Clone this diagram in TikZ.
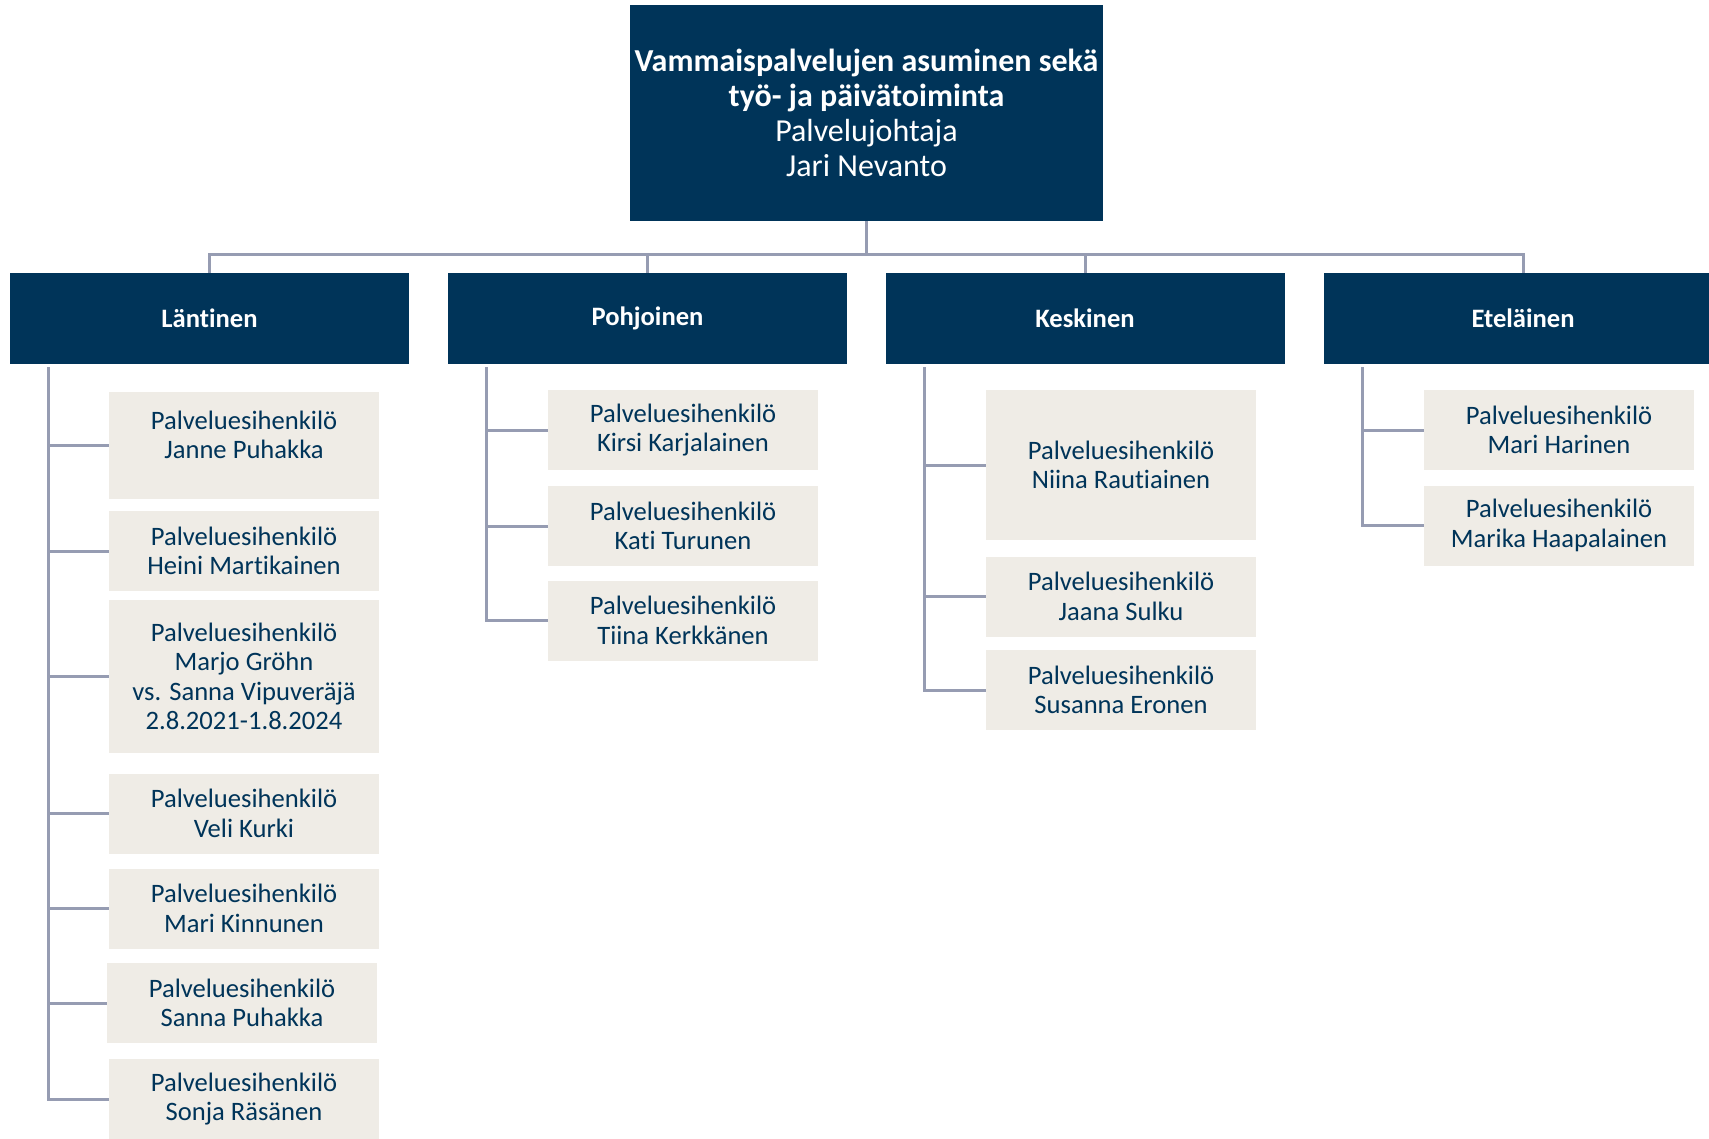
\documentclass[tikz,border=0pt]{standalone}
\usepackage{fontspec}
\setmainfont{Carlito}[RawFeature={-liga;-clig;-dlig;-calt;-hlig}]
\usetikzlibrary{positioning}
\definecolor{navy}{RGB}{0,52,89}
\definecolor{sand}{RGB}{239,236,230}
\definecolor{linegray}{RGB}{150,156,178}

\begin{document}
\begin{tikzpicture}[x=0.5pt,y=-0.5pt]
\tikzstyle{chief}=[rectangle,fill=navy,text=white,align=center,inner sep=0pt,minimum width=236.5pt,minimum height=107.75pt,font=\fontsize{16}{17.6}\selectfont]
\tikzstyle{region}=[rectangle,fill=navy,text=white,align=center,inner sep=0pt,minimum width=199.5pt,minimum height=45.5pt,font=\fontsize{13.3}{14.7}\selectfont\bfseries]
\tikzstyle{staff}=[rectangle,fill=sand,text=navy,align=center,inner sep=0pt,minimum width=135pt,minimum height=40pt,font=\fontsize{13.3}{14.7}\selectfont]
\tikzstyle{link}=[draw=linegray,line width=1.5pt]
\clip (0,0) rectangle (1709,1139);
\node[chief] (chief) at (866.5,113) {\textbf{Vammaispalvelujen asuminen sekä}\\\textbf{työ- ja päivätoiminta}\\Palvelujohtaja\\Jari Nevanto};

\node[region] (lant) at (209.5,318.5) {Läntinen};
\node[region] (pohj) at (647.5,318.5) {Pohjoinen};
\node[region] (kesk) at (1085,318.5) {Keskinen};
\node[region] (etel) at (1523,318.5) {Eteläinen};

\foreach \r in {lant,pohj,kesk,etel}
  \draw[link] (chief.south) -- ++(0,33) -| (\r.north);

\node[staff,minimum height=53.5pt,text depth=11pt] (janne) at (244,445.5) {Palveluesihenkilö\\Janne Puhakka};
\node[staff] (heini) at (244,551) {Palveluesihenkilö\\Heini Martikainen};
\node[staff,minimum height=76.5pt] (marjo) at (244,676.5) {Palveluesihenkilö\\Marjo Gröhn\\vs. Sanna Vipuveräjä\\2.8.2021-1.8.2024};
\node[staff] (veli) at (244,813.5) {Palveluesihenkilö\\Veli Kurki};
\node[staff] (marik) at (244,908.5) {Palveluesihenkilö\\Mari Kinnunen};
\node[staff] (sannap) at (242,1003) {Palveluesihenkilö\\Sanna Puhakka};
\node[staff] (sonja) at (244,1099) {Palveluesihenkilö\\Sonja Räsänen};

\node[staff] (kirsi) at (683,430) {Palveluesihenkilö\\Kirsi Karjalainen};
\node[staff] (kati) at (683,526) {Palveluesihenkilö\\Kati Turunen};
\node[staff] (tiina) at (683,620.5) {Palveluesihenkilö\\Tiina Kerkkänen};

\node[staff,minimum height=75pt] (niina) at (1121,465) {Palveluesihenkilö\\Niina Rautiainen};
\node[staff] (jaana) at (1121,596.5) {Palveluesihenkilö\\Jaana Sulku};
\node[staff] (susanna) at (1121,690) {Palveluesihenkilö\\Susanna Eronen};

\node[staff] (marih) at (1559,430) {Palveluesihenkilö\\Mari Harinen};
\node[staff] (marika) at (1559,525.5) {Palveluesihenkilö\\Marika Haapalainen};

\coordinate (lant-t) at ([xshift=19.5pt,yshift=-1.5pt]lant.south west);
\coordinate (pohj-t) at ([xshift=19.5pt,yshift=-1.5pt]pohj.south west);
\coordinate (kesk-t) at ([xshift=19.5pt,yshift=-1.5pt]kesk.south west);
\coordinate (etel-t) at ([xshift=19.5pt,yshift=-1.5pt]etel.south west);

\foreach \c in {janne,heini,marjo,veli,marik,sannap,sonja}
  \draw[link] (lant-t) |- (\c.west);
\foreach \c in {kirsi,kati,tiina}
  \draw[link] (pohj-t) |- (\c.west);
\foreach \c in {niina,jaana,susanna}
  \draw[link] (kesk-t) |- (\c.west);
\foreach \c in {marih,marika}
  \draw[link] (etel-t) |- (\c.west);
\end{tikzpicture}
\end{document}
